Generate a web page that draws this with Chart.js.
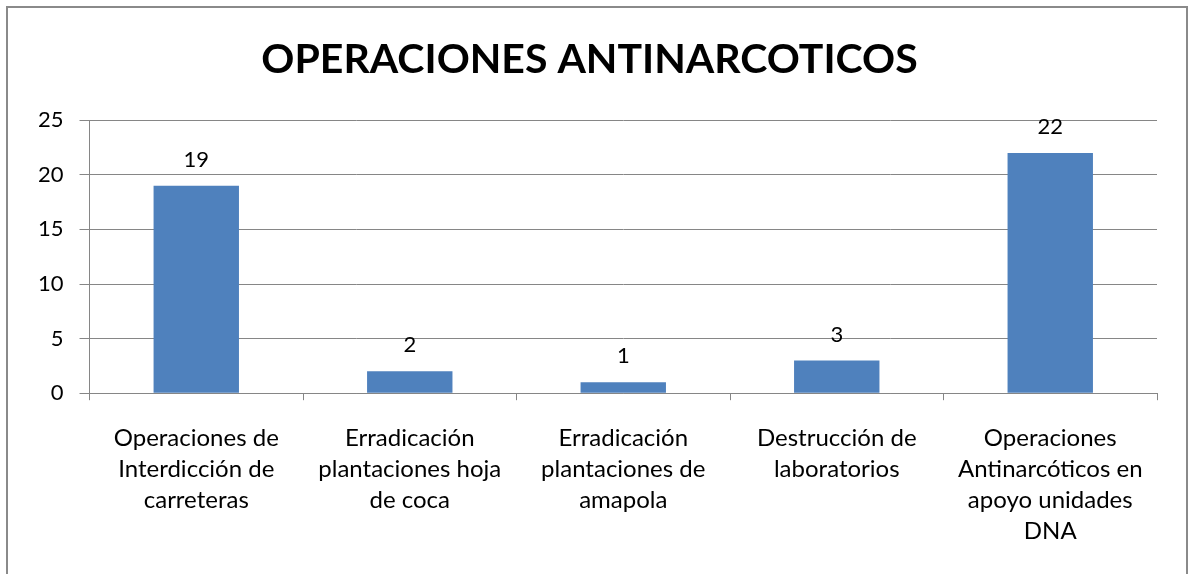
<!DOCTYPE html>
<html>
<head>
<meta charset="utf-8">
<script src="https://cdn.jsdelivr.net/npm/chart.js@4.4.1/dist/chart.umd.min.js"></script>
<style>
    body { margin: 0; background: #fff; }
    #wrap { position: relative; width: 1195px; height: 574px; }
    #frame { position: absolute; left: 6px; top: 6px; width: 1178px; height: 600px; border: 2px solid #8a8a8a; pointer-events: none; }
</style>
</head>
<body>
<div id="wrap">
    <canvas id="operaciones" width="1195" height="574"></canvas>
    <div id="frame"></div>
</div>
<script>
const titulo = 'OPERACIONES ANTINARCOTICOS'
const categorias = [
    ['Operaciones de', 'Interdicción de', 'carreteras'],
    ['Erradicación', 'plantaciones hoja', 'de coca'],
    ['Erradicación', 'plantaciones de', 'amapola'],
    ['Destrucción de', 'laboratorios'],
    ['Operaciones', 'Antinarcóticos en', 'apoyo unidades', 'DNA']
]
const operaciones = [19, 2, 1, 3, 22]
const ejeY = [0, 5, 10, 15, 20, 25]

const fuente = 'Lato, "Open Sans", sans-serif'
const gris = '#868686'

// valores encima de cada barra
const etiquetas = {
    id: 'etiquetas',
    afterDatasetsDraw(chart) {
        const ctx = chart.ctx
        const meta = chart.getDatasetMeta(0)
        ctx.save()
        ctx.font = '22px ' + fuente
        ctx.fillStyle = '#000'
        ctx.textAlign = 'center'
        ctx.textBaseline = 'middle'
        meta.data.forEach(function (bar, i) {
            ctx.fillText(String(operaciones[i]), bar.x, bar.y - 26)
        })
        ctx.restore()
    }
}

const canvas = document.getElementById('operaciones')
const grafico = new Chart(canvas, {
    type: 'bar',
    data: {
        labels: categorias,
        datasets: [{
            data: operaciones,
            backgroundColor: '#4F81BD',
            borderWidth: 0,
            barPercentage: 0.4,
            categoryPercentage: 1
        }]
    },
    options: {
        responsive: false,
        animation: false,
        layout: {
            padding: { left: 22, right: 38, top: 0, bottom: 5 }
        },
        plugins: {
            legend: { display: false },
            tooltip: { enabled: false },
            title: {
                display: true,
                text: titulo,
                color: '#000',
                font: { family: fuente, size: 41, weight: 'bold', lineHeight: 1.2 },
                padding: { top: 35, bottom: 36 }
            }
        },
        scales: {
            x: {
                offset: true,
                grid: {
                    offset: true,
                    drawOnChartArea: false,
                    color: gris,
                    tickLength: 7
                },
                border: { color: gris },
                ticks: {
                    color: '#000',
                    padding: 22,
                    maxRotation: 0,
                    autoSkip: false,
                    font: { family: fuente, size: 24, lineHeight: 1.3 }
                }
            },
            y: {
                min: 0,
                max: 25,
                afterBuildTicks(scale) {
                    scale.ticks = ejeY.map(v => ({ value: v }))
                },
                grid: { color: gris, tickLength: 10 },
                border: { color: gris },
                ticks: {
                    color: '#000',
                    padding: 16,
                    font: { family: fuente, size: 22 }
                }
            }
        }
    },
    plugins: [etiquetas]
})
</script>
</body>
</html>
